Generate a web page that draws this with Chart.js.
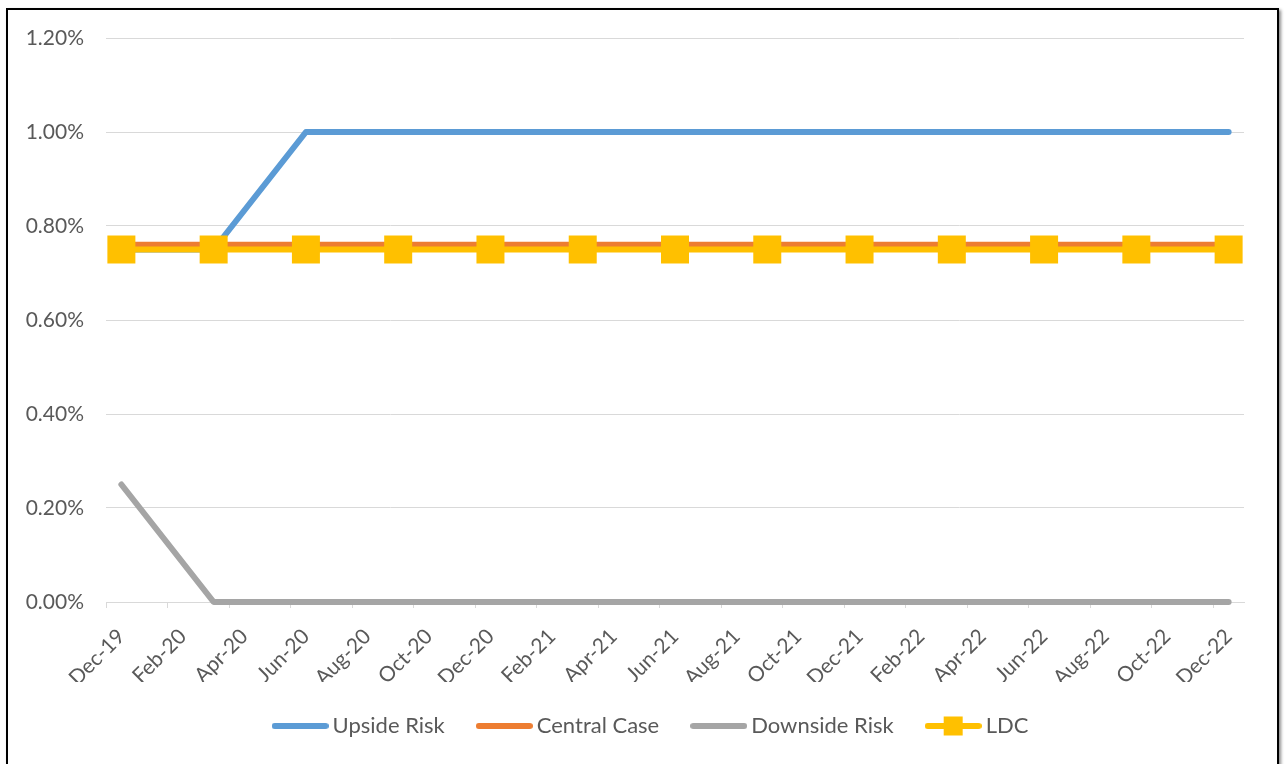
<!DOCTYPE html>
<html><head><meta charset="utf-8">
<script src="https://cdn.jsdelivr.net/npm/chart.js@4.4.0/dist/chart.umd.min.js"></script>
<style>
html,body{margin:0;padding:0;background:#fff;overflow:hidden;}
#frame{position:absolute;left:6px;top:8px;width:1269px;height:780px;border:2px solid #000;box-shadow:2px 2px 3px rgba(0,0,0,0.45);background:#fff;}
#wrap{position:absolute;left:0;top:0;width:1285px;height:764px;}
</style></head><body>
<div id="frame"></div>
<div id="wrap"><canvas id="c" width="1285" height="764"></canvas></div>
<script>
// ---- data ----
const periods = ['Dec-19','Mar-20','Jun-20','Sep-20','Dec-20','Mar-21','Jun-21','Sep-21','Dec-21','Mar-22','Jun-22','Sep-22','Dec-22'];
const upsideRisk   = [0.75,0.75,1.00,1.00,1.00,1.00,1.00,1.00,1.00,1.00,1.00,1.00,1.00];
const centralCase  = [0.76,0.76,0.76,0.76,0.76,0.76,0.76,0.76,0.76,0.76,0.76,0.76,0.76];
const downsideRisk = [0.25,0.00,0.00,0.00,0.00,0.00,0.00,0.00,0.00,0.00,0.00,0.00,0.00];
const ldc          = [0.75,0.75,0.75,0.75,0.75,0.75,0.75,0.75,0.75,0.75,0.75,0.75,0.75];
const seriesNames  = ['Upside Risk','Central Case','Downside Risk','LDC'];
const tickLabels = ['Dec-19','Feb-20','Apr-20','Jun-20','Aug-20','Oct-20','Dec-20','Feb-21','Apr-21','Jun-21','Aug-21','Oct-21','Dec-21','Feb-22','Apr-22','Jun-22','Aug-22','Oct-22','Dec-22'];
const yTicks = [0,0.2,0.4,0.6,0.8,1.0,1.2];

// ---- helpers ----
const MON = {Jan:0,Feb:1,Mar:2,Apr:3,May:4,Jun:5,Jul:6,Aug:7,Sep:8,Oct:9,Nov:10,Dec:11};
function absMonth(lbl){ const [m,y] = lbl.split('-'); return (2000 + Number(y)) * 12 + MON[m]; }
const base = absMonth(tickLabels[0]);
const mIdx = lbl => absMonth(lbl) - base;
const xMax = mIdx(tickLabels[tickLabels.length-1]) + 1;
const pts = arr => periods.map((p,i) => ({x: mIdx(p) + 0.5, y: arr[i]}));

const colors = ['#5B9BD5','#ED7D31','#A5A5A5','#FFC000'];
function legendSymbol(color, marker){
  const c = document.createElement('canvas'); c.width = 57; c.height = 20;
  const g = c.getContext('2d');
  g.strokeStyle = color; g.lineWidth = 6; g.lineCap = 'round';
  g.beginPath(); g.moveTo(3,10); g.lineTo(54,10); g.stroke();
  if (marker){ g.fillStyle = color; g.fillRect(19,0.5,19,19); }
  return c;
}
const symbols = colors.map((c,i) => legendSymbol(c, i === 3));

const FAM = "Lato, 'Open Sans', sans-serif";
const TXT = '#595959';

const legendPos = {
  id: 'legendPos',
  afterLayout(chart){
    const lg = chart.legend;
    lg.left = 11; lg.right = 1296; lg.width = 1285;
    lg.top = 677; lg.bottom = lg.top + lg.height;
  }
};

const common = {borderWidth: 6, tension: 0, pointRadius: 0, pointHoverRadius: 0, borderCapStyle: 'round', borderJoinStyle: 'round', fill: false, clip: false};

new Chart(document.getElementById('c'), {
  type: 'line',
  data: {
    datasets: [
      Object.assign({label: seriesNames[0], data: pts(upsideRisk), borderColor: colors[0], backgroundColor: colors[0], order: 3}, common),
      Object.assign({label: seriesNames[1], data: pts(centralCase), borderColor: colors[1], backgroundColor: colors[1], order: 2}, common),
      Object.assign({label: seriesNames[2], data: pts(downsideRisk), borderColor: colors[2], backgroundColor: colors[2], order: 1}, common),
      Object.assign({}, common, {label: seriesNames[3], data: pts(ldc), borderColor: colors[3], backgroundColor: colors[3], order: 0,
        pointStyle: 'rect', pointRadius: 19.8, pointHoverRadius: 19.8, pointBorderWidth: 0, pointBackgroundColor: colors[3]})
    ]
  },
  options: {
    responsive: false,
    animation: false,
    devicePixelRatio: 1,
    layout: {padding: {left: 0, right: 41, top: 38, bottom: 12}},
    plugins: {
      tooltip: {enabled: false},
      legend: {
        position: 'bottom', align: 'center',
        labels: {
          usePointStyle: true, pointStyleWidth: 43, padding: 38, color: TXT, font: {family: FAM, size: 22},
          generateLabels(chart){
            return chart.data.datasets.map((ds,i) => ({text: ds.label, pointStyle: symbols[i], fillStyle: ds.borderColor, strokeStyle: ds.borderColor, lineWidth: 0, hidden: false, datasetIndex: i, fontColor: TXT}));
          }
        }
      }
    },
    scales: {
      x: {
        type: 'linear', position: 'bottom', weight: 1, min: 0, max: xMax,
        afterBuildTicks(s){ s.ticks = tickLabels.map(l => ({value: mIdx(l)})); },
        afterFit(s){ s.height = 0; },
        ticks: {display: false},
        grid: {display: true, drawOnChartArea: false, drawTicks: true, tickLength: 6, color: '#D9D9D9', lineWidth: 1},
        border: {display: true, color: '#D9D9D9', width: 1}
      },
      xl: {
        type: 'linear', position: 'bottom', weight: 2, min: 0, max: xMax,
        afterBuildTicks(s){ s.ticks = tickLabels.map(l => ({value: mIdx(l) + 0.5})); },
        afterFit(s){ s.height = 80; },
        ticks: {autoSkip: false, maxRotation: 45, minRotation: 45, padding: 22, color: TXT, font: {family: FAM, size: 21},
          callback: (v, i) => tickLabels[i]},
        grid: {display: false, drawTicks: false},
        border: {display: false}
      },
      y: {
        type: 'linear', min: 0, max: 1.2,
        afterBuildTicks(s){ s.ticks = yTicks.map(v => ({value: v})); },
        afterFit(s){ s.width = 106; },
        ticks: {padding: 22, color: TXT, font: {family: FAM, size: 21}, callback: v => v.toFixed(2) + '%'},
        grid: {color: '#D9D9D9', lineWidth: 1, drawTicks: false},
        border: {display: false}
      }
    }
  },
  plugins: [legendPos]
});
</script>
</body></html>
